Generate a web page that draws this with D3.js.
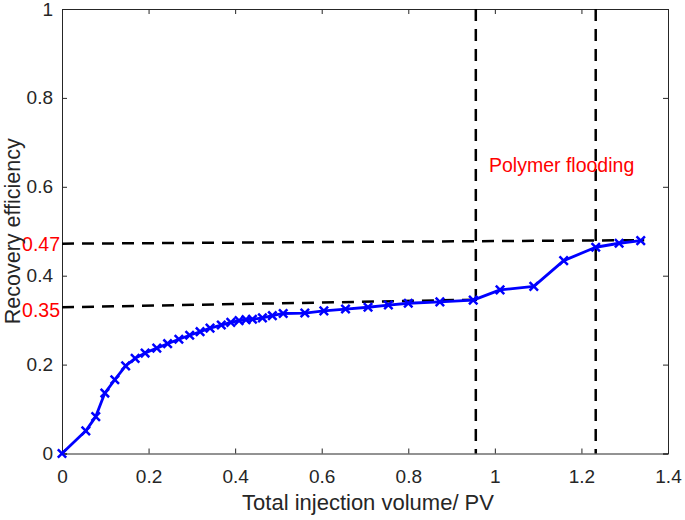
<!DOCTYPE html>
<html>
<head>
<meta charset="utf-8">
<script src="https://cdn.jsdelivr.net/npm/d3@7"></script>
<style>
  html, body { margin: 0; padding: 0; background: #fff; }
  svg { display: block; font-family: "Liberation Sans", Arial, Helvetica, sans-serif; }
</style>
</head>
<body>
<svg id="chart" width="685" height="520"></svg>
<script>
// ---- data ----
const injectionPV = [0, 0.055, 0.078, 0.099, 0.122, 0.147, 0.169, 0.192, 0.219, 0.244, 0.270, 0.295,
  0.319, 0.342, 0.368, 0.390, 0.409, 0.425, 0.440, 0.463, 0.486, 0.511, 0.561, 0.605, 0.655,
  0.707, 0.754, 0.800, 0.873, 0.950, 1.012, 1.090, 1.159, 1.233, 1.287, 1.337];
const recovery = [0, 0.051, 0.083, 0.136, 0.166, 0.197, 0.214, 0.226, 0.237, 0.247, 0.257, 0.266,
  0.274, 0.282, 0.289, 0.295, 0.299, 0.301, 0.302, 0.305, 0.310, 0.315, 0.316, 0.321, 0.325,
  0.329, 0.334, 0.338, 0.341, 0.345, 0.368, 0.376, 0.434, 0.464, 0.473, 0.479];
const xTicks = [0, 0.2, 0.4, 0.6, 0.8, 1, 1.2, 1.4];
const yTicks = [0, 0.2, 0.4, 0.6, 0.8, 1];
// reference (extrapolated) lines: [x0, y0, x1, y1]
const refLines = [[0, 0.329, 0.957, 0.346], [0, 0.472, 1.345, 0.480]];
const refLabels = ["0.35", "0.47"];
const refLabelY = [0.323, 0.470];
const stageBounds = [0.956, 1.233];
const stageLabel = "Polymer flooding";
const xTitle = "Total injection volume/ PV";
const yTitle = "Recovery efficiency";

// ---- layout ----
const svg = d3.select("#chart");
const W = 685, H = 520;
const m = {left: 62, right: 17, top: 9, bottom: 66.5};
const x = d3.scaleLinear().domain([0, 1.4]).range([m.left, W - m.right]);
const y = d3.scaleLinear().domain([0, 1]).range([H - m.bottom, m.top]);
const axisColor = "#262626";
const fmt = d => d3.format("")(+d.toFixed(1));

// axes with inward ticks
const gx = svg.append("g").attr("transform", `translate(0,${y(0)})`)
  .call(d3.axisBottom(x).tickValues(xTicks).tickSize(-5).tickPadding(16).tickFormat(fmt));
const gxTop = svg.append("g").attr("transform", `translate(0,${y(1)})`)
  .call(d3.axisTop(x).tickValues(xTicks).tickSize(-5).tickFormat(""));
const gy = svg.append("g").attr("transform", `translate(${x(0)},0)`)
  .call(d3.axisLeft(y).tickValues(yTicks).tickSize(-5).tickPadding(9).tickFormat(fmt));
const gyR = svg.append("g").attr("transform", `translate(${x(1.4)},0)`)
  .call(d3.axisRight(y).tickValues(yTicks).tickSize(-5).tickFormat(""));
[gx, gxTop, gy, gyR].forEach(g => {
  g.select(".domain").attr("stroke", axisColor).attr("stroke-width", 1);
  g.selectAll(".tick line").attr("stroke", axisColor).attr("stroke-width", 1);
  g.selectAll(".tick text").attr("fill", axisColor).attr("font-size", 19)
    .attr("font-family", "Liberation Sans, Arial, sans-serif");
});
gx.selectAll(".tick text").attr("dy", "0.71em");

// reference dashed lines
const dash = "12,8";
svg.append("g").selectAll("line.ref").data(refLines).join("line")
  .attr("x1", d => x(d[0])).attr("y1", d => y(d[1]))
  .attr("x2", d => x(d[2])).attr("y2", d => y(d[3]))
  .attr("stroke", "#000").attr("stroke-width", 2.5).attr("stroke-dasharray", dash);

svg.append("g").selectAll("line.stage").data(stageBounds).join("line")
  .attr("x1", d => x(d)).attr("x2", d => x(d))
  .attr("y1", y(1)).attr("y2", y(0))
  .attr("stroke", "#000").attr("stroke-width", 2.5).attr("stroke-dasharray", dash);

// red labels
svg.append("g").selectAll("text").data(refLabels).join("text")
  .attr("x", x(0) - 2).attr("y", (d, i) => y(refLabelY[i]))
  .attr("dy", "0.35em").attr("text-anchor", "end")
  .attr("fill", "#ff0000").attr("font-size", 19.5).text(d => d);

svg.append("text").attr("x", 489).attr("y", y(0.648)).attr("dy", "0.35em")
  .attr("fill", "#ff0000").attr("font-size", 19.5).text(stageLabel);

// data line
const pts = injectionPV.map((v, i) => [v, recovery[i]]);
svg.append("path").datum(pts)
  .attr("fill", "none").attr("stroke", "#0000ff").attr("stroke-width", 2.8)
  .attr("stroke-linejoin", "round")
  .attr("d", d3.line().x(d => x(d[0])).y(d => y(d[1])));

const s = 4.2;
svg.append("g").selectAll("path.mk").data(pts).join("path")
  .attr("d", d => `M${x(d[0]) - s},${y(d[1]) - s}L${x(d[0]) + s},${y(d[1]) + s}M${x(d[0]) - s},${y(d[1]) + s}L${x(d[0]) + s},${y(d[1]) - s}`)
  .attr("stroke", "#0000ff").attr("stroke-width", 2.5).attr("fill", "none");

// titles
svg.append("text").attr("x", (x(0) + x(1.4)) / 2 + 3).attr("y", 510)
  .attr("text-anchor", "middle").attr("fill", axisColor).attr("font-size", 22).text(xTitle);
svg.append("text").attr("transform", `translate(19.5,${(y(0) + y(1)) / 2}) rotate(-90)`)
  .attr("text-anchor", "middle").attr("fill", axisColor).attr("font-size", 21.5).text(yTitle);
</script>
</body>
</html>
